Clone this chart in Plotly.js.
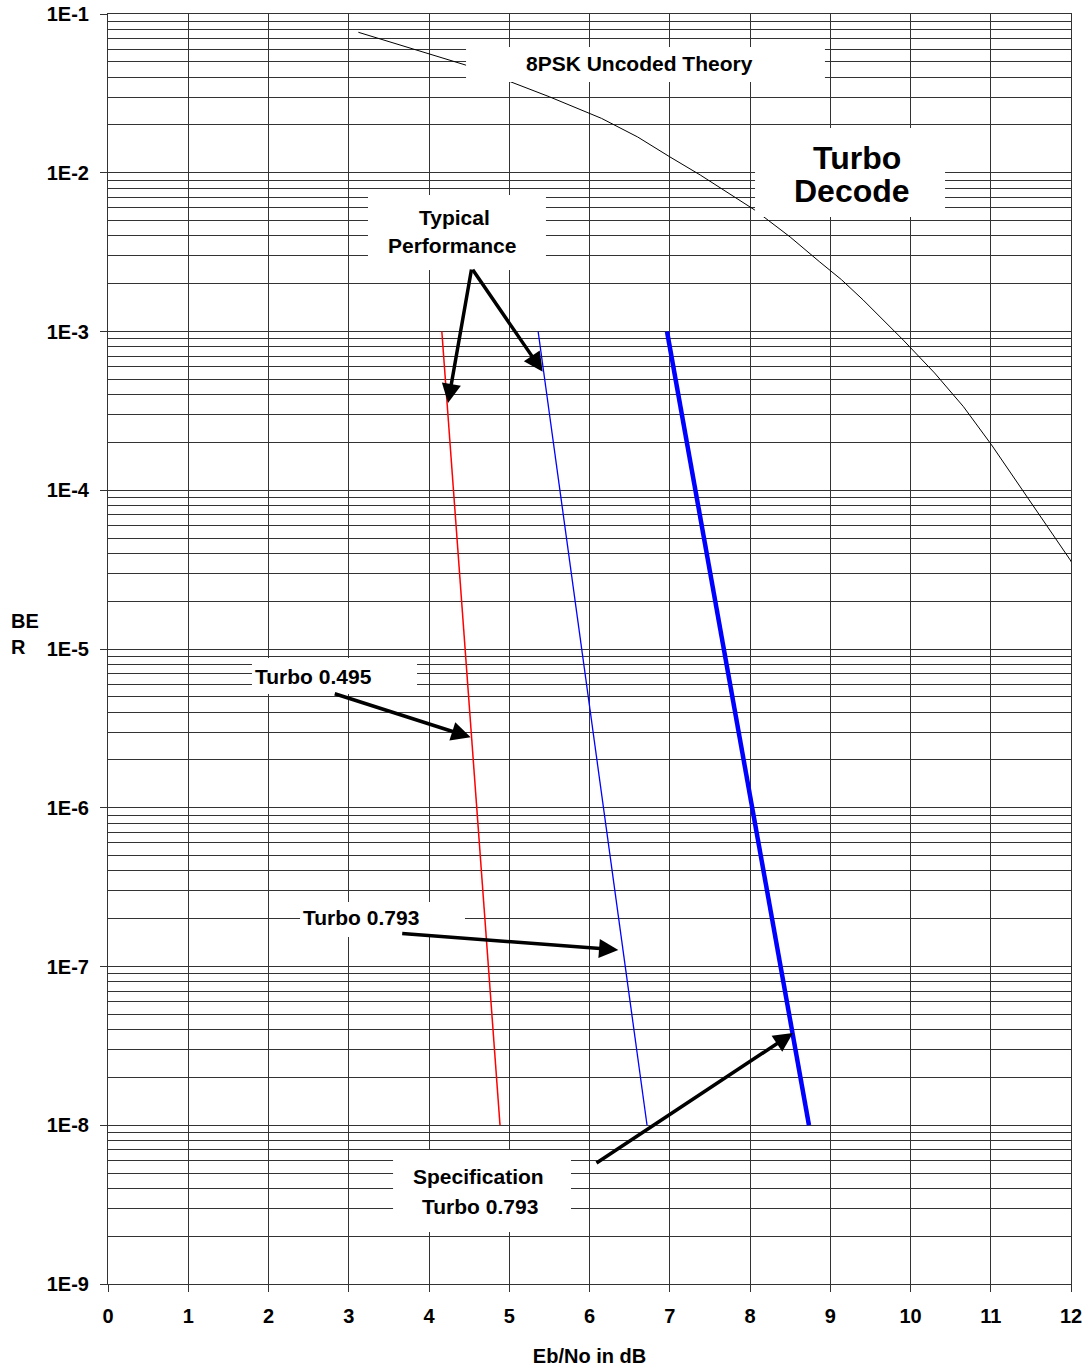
<!DOCTYPE html>
<html>
<head>
<meta charset="utf-8">
<script src="https://cdn.plot.ly/plotly-3.0.1.min.js"></script>
<style>html,body{margin:0;padding:0;background:#fff;}#chart{width:1088px;height:1370px;}</style>
</head>
<body>
<div id="chart"></div>
<script>
// ---- data ----
const theoryX = [3.12, 3.6, 4.0, 4.45, 5.01, 5.5, 6.15, 6.6, 7.0, 7.38, 8.06, 8.5, 8.87, 9.14, 9.41, 9.91, 10.3, 10.66, 11.01, 11.51, 11.99, 12.2];
const theoryY = [7.67e-2, 6.47e-2, 5.65e-2, 4.78e-2, 3.75e-2, 3.01e-2, 2.2e-2, 1.68e-2, 1.26e-2, 9.68e-3, 5.82e-3, 3.94e-3, 2.74e-3, 2.12e-3, 1.58e-3, 8.83e-4, 5.48e-4, 3.36e-4, 1.93e-4, 8.28e-5, 3.64e-5, 2.36e-5];
const turbo495X = [4.16, 4.885];
const turbo495Y = [1e-3, 1e-8];
const turbo793X = [5.36, 6.717];
const turbo793Y = [1e-3, 1e-8];
const specX = [6.966, 8.735];
const specY = [1e-3, 1e-8];
const yTickVals = [1e-9, 1e-8, 1e-7, 1e-6, 1e-5, 1e-4, 1e-3, 1e-2, 1e-1];
const yTickText = ["1E-9", "1E-8", "1E-7", "1E-6", "1E-5", "1E-4", "1E-3", "1E-2", "1E-1"];
const xTickVals = [0, 1, 2, 3, 4, 5, 6, 7, 8, 9, 10, 11, 12];

const FONT = "Liberation Sans, Arial, sans-serif";
const GRID = "#333333";

const traces = [
  {x: theoryX, y: theoryY, type: "scatter", mode: "lines", line: {color: "#000", width: 1}, name: "8PSK Uncoded Theory"},
  {x: turbo495X, y: turbo495Y, type: "scatter", mode: "lines", line: {color: "#ff0000", width: 1.5}, name: "Turbo 0.495"},
  {x: turbo793X, y: turbo793Y, type: "scatter", mode: "lines", line: {color: "#0000ff", width: 1.3}, name: "Turbo 0.793"},
  {x: specX, y: specY, type: "scatter", mode: "lines", line: {color: "#0000ff", width: 4.5}, name: "Specification Turbo 0.793"}
];

function box(x0, x1, y0, y1) {
  return {type: "rect", xref: "paper", yref: "paper", x0: x0, x1: x1, y0: y0, y1: y1,
          fillcolor: "#ffffff", line: {width: 0}, layer: "above"};
}
function label(text, x, y, size) {
  return {text: text, xref: "paper", yref: "paper", x: x, y: y, xanchor: "center", yanchor: "middle",
          showarrow: false, font: {family: FONT, size: size || 21, color: "#000", weight: "bold"}};
}
function arrow(x, y, ax, ay) {
  return {text: "", xref: "paper", yref: "paper", x: x, y: y, ax: ax, ay: ay,
          showarrow: true, arrowhead: 2, arrowsize: 1.1, arrowwidth: 3.5, arrowcolor: "#000", standoff: 0, startstandoff: 0};
}

const layout = {
  width: 1088, height: 1370,
  margin: {l: 108, r: 17, t: 14, b: 86},
  paper_bgcolor: "#fff", plot_bgcolor: "#fff",
  showlegend: false,
  font: {family: FONT, color: "#000"},
  xaxis: {
    range: [0, 12], tickvals: xTickVals, ticktext: xTickVals.map(String),
    showgrid: true, gridcolor: GRID, gridwidth: 1, zeroline: false,
    showline: true, linecolor: "#333", linewidth: 1, mirror: true,
    ticks: "outside", ticklen: 7, tickcolor: "#333",
    tickfont: {family: FONT, size: 20, weight: "bold"}, ticklabelstandoff: 7,
    title: {text: "Eb/No in dB", font: {family: FONT, size: 20, weight: "bold"}, standoff: 22}
  },
  yaxis: {
    type: "log", range: [-9, -1], tickmode: "array", tickvals: yTickVals, ticktext: yTickText,
    showgrid: true, gridcolor: GRID, gridwidth: 1, zeroline: false,
    showline: true, linecolor: "#333", linewidth: 1, mirror: true,
    ticks: "outside", ticklen: 7, tickcolor: "#333",
    tickfont: {family: FONT, size: 20, weight: "bold"}, ticklabelstandoff: 7,
    minor: {dtick: "D1", showgrid: true, gridcolor: GRID, gridwidth: 1, ticks: ""}
  },
  shapes: [
    box(0.3718, 0.7445, 0.9465, 0.9740),
    box(0.6719, 0.8692, 0.8402, 0.9102),
    box(0.2700, 0.4548, 0.7984, 0.8575),
    box(0.1495, 0.3209, 0.4646, 0.4929),
    box(0.1994, 0.3707, 0.2732, 0.3008),
    box(0.2960, 0.4808, 0.0409, 0.1055)
  ],
  annotations: [
    label("8PSK Uncoded Theory", 0.5524, 0.9614),
    label("Turbo", 0.7775, 0.8864, 32),
    label("Decode", 0.7731, 0.8609, 32),
    label("Typical", 0.3593, 0.8399),
    label("Performance", 0.3567, 0.8176),
    label("Turbo 0.495", 0.2129, 0.4787),
    label("Turbo 0.793", 0.2627, 0.2882),
    label("Specification", 0.3845, 0.0843),
    label("Turbo 0.793", 0.3863, 0.0614),
    {text: "BE<br>R", xref: "paper", yref: "paper", x: -0.1025, y: 0.512, xanchor: "left", yanchor: "middle",
     align: "left", showarrow: false, font: {family: FONT, size: 20, color: "#000", weight: "bold"}},
    arrow(0.3531, 0.6937, 23.7, -135),
    arrow(0.4514, 0.7183, -71, -103.4),
    arrow(0.3766, 0.4305, -137.4, -44),
    arrow(0.5299, 0.2630, -217.6, -16.7),
    arrow(0.7113, 0.1976, -198, 131)
  ]
};

Plotly.newPlot("chart", traces, layout, {displayModeBar: false, staticPlot: true});
</script>
</body>
</html>
